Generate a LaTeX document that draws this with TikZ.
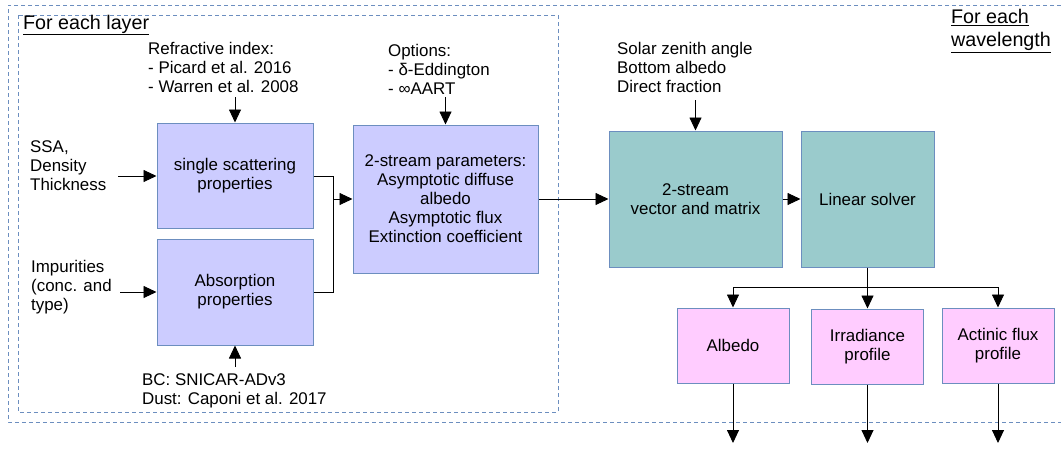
\documentclass[tikz,border=0pt]{standalone}
\usepackage{fontspec}
\setmainfont{Liberation Sans}
\usetikzlibrary{arrows.meta}
\definecolor{lav}{HTML}{CCCCFF}
\definecolor{teal2}{HTML}{9ACBCC}
\definecolor{pinkb}{HTML}{FFCCFF}
\definecolor{edgeb}{HTML}{6C8EBF}
\tikzset{
  x=1pt, y=-1pt,
  txt/.style={font=\fontsize{16.9}{19}\selectfont, inner sep=0pt},
  lbl/.style={txt, anchor=west, align=left},
  box/.style={txt, draw=edgeb, line width=1pt, align=center},
  lavbox/.style={box, fill=lav},
  tealbox/.style={box, fill=teal2},
  pinkbox/.style={box, fill=pinkb, minimum width=112pt, minimum height=75pt},
  conn/.style={line width=0.9pt, -{Triangle[length=13pt,width=12pt]}},
  plain/.style={line width=0.9pt},
  frame/.style={draw=edgeb, line width=0.9pt, dash pattern=on 4pt off 3pt},
  head/.style={font=\fontsize{19.7}{23}\selectfont, inner sep=0pt, anchor=west, align=left}
}
\begin{document}
\begin{tikzpicture}
\useasboundingbox (0,0) rectangle (1061,448);
% frames
\draw[frame] (1061,5) -- (8,5) -- (8,422) -- (1061,422);
\draw[frame] (18,15) rectangle (558,412);
\node[head] (hlayer) at (23,25) {\underline{For each layer}};
\node[head] (hwave) at (951,31) {\underline{For each}\\\underline{wavelength}};

% boxes
\node[lavbox, minimum width=156pt, minimum height=105pt] (ss) at (235,175.5) {single scattering\\properties};
\node[lavbox, minimum width=156pt, minimum height=106pt] (abs) at (235,292) {Absorption\\properties};
\node[lavbox, minimum width=185pt, minimum height=148pt] (par) at (445.5,199) {2-stream parameters:\\Asymptotic diffuse\\albedo\\Asymptotic flux\\Extinction coefficient};
\node[tealbox, minimum width=173pt, minimum height=136pt] (vec) at (695.5,199) {2-stream\\vector and matrix};
\node[tealbox, minimum width=133pt, minimum height=136pt] (lin) at (867.5,199) {Linear solver};
\node[pinkbox] (alb) at (733,345.5) {Albedo};
\node[pinkbox] (irr) at (867.5,346.5) {Irradiance\\profile};
\node[pinkbox] (act) at (998,345.5) {Actinic flux\\profile};

% labels
\node[lbl] (ssa) at (30,166) {SSA,\\Density\\Thickness};
\node[lbl] (imp) at (31,287) {Impurities\\(conc. and\\type)};
\node[lbl] (refr) at (148,67.5) {Refractive index:\\- Picard et al. 2016\\- Warren et al. 2008};
\node[lbl] (opt) at (388,69) {Options:\\- δ-Eddington\\- ∞AART};
\node[lbl] (sol) at (617,67) {Solar zenith angle\\Bottom albedo\\Direct fraction};
\node[lbl] (bc) at (142,391) {BC: SNICAR-ADv3\\Dust: Caponi et al. 2017};

% coordinates
\coordinate (cssa) at (118,176);
\coordinate (cimp) at (120,292);
\coordinate (crefr) at (235,97);
\coordinate (copt) at (445.5,97);
\coordinate (csol) at (695.5,100);
\coordinate (cbc) at (235,367);
\coordinate (merge) at (333,199);
\coordinate (split) at (867.5,287);
\coordinate (oalb) at (733,443);
\coordinate (oirr) at (867.5,443);
\coordinate (oact) at (998,443);

% connectors
\draw[conn] (cssa) -- (cssa -| ss.west);
\draw[conn] (cimp) -- (cimp -| abs.west);
\draw[conn] (crefr) -- (ss.north);
\draw[conn] (copt) -- (par.north);
\draw[conn] (csol) -- (vec.north);
\draw[conn] (cbc) -- (abs.south);
\draw[plain] (ss.east |- cssa) -| (merge);
\draw[plain] (abs.east |- cimp) -| (merge);
\draw[conn] (merge) -- (par.west);
\draw[conn] (par.east) -- (vec.west);
\draw[conn] (vec.east) -- (lin.west);
\draw[plain] (lin.south) -- (split);
\draw[conn] (split) -| (alb.north);
\draw[conn] (split) -| (act.north);
\draw[conn] (split) -- (irr.north);
\draw[conn] (alb.south) -- (oalb);
\draw[conn] (irr.south) -- (oirr);
\draw[conn] (act.south) -- (oact);
\end{tikzpicture}
\end{document}
